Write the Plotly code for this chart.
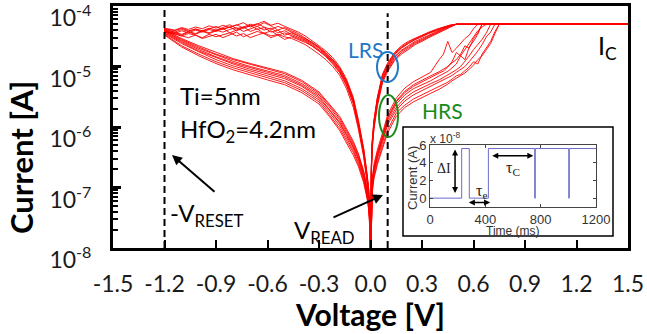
import plotly.graph_objects as go

# ---------------- data ----------------
# Positive sweep, HRS -> SET (current in A), voltage grid in V
V_SET = [0.0, 0.005, 0.01, 0.02, 0.04, 0.07, 0.1, 0.15, 0.2, 0.25, 0.3, 0.35, 0.4, 0.425,
         0.45, 0.475, 0.5, 0.525, 0.55, 0.575, 0.6, 0.625, 0.65, 0.675, 0.7, 0.725, 0.75, 1.5]
I_SET = [
    [4e-9, 7e-8, 1.2e-7, 2.0e-7, 3.5e-7, 6.5e-7, 1.3e-6, 2.4e-6, 3.4e-6, 4.3e-6, 5.0e-6, 5.8e-6, 7.0e-6, 7.6e-6,
     8.3e-6, 9.5e-6, 1.1e-5, 1.5e-5, 1.3e-5, 2.1e-5, 2.6e-5, 3.4e-5, 5e-5, 5e-5, 5e-5, 5e-5, 5e-5, 5e-5],
    [4e-9, 5e-8, 9e-8, 1.5e-7, 2.6e-7, 4.8e-7, 9e-7, 1.7e-6, 2.3e-6, 2.9e-6, 3.4e-6, 4.0e-6, 4.6e-6, 5.0e-6,
     5.5e-6, 6.2e-6, 7.0e-6, 7.4e-6, 8.5e-6, 9.8e-6, 1.2e-5, 1.1e-5, 1.6e-5, 2.0e-5, 2.6e-5, 3.8e-5, 5e-5, 5e-5],
    [4e-9, 8e-8, 1.4e-7, 2.4e-7, 4.2e-7, 8e-7, 1.6e-6, 3.0e-6, 4.4e-6, 5.6e-6, 6.6e-6, 8.0e-6, 1.3e-5, 1.6e-5,
     2.6e-5, 1.7e-5, 2.0e-5, 2.4e-5, 2.9e-5, 3.3e-5, 4.2e-5, 5e-5, 5e-5, 5e-5, 5e-5, 5e-5, 5e-5, 5e-5],
    [4e-9, 6e-8, 1.1e-7, 1.8e-7, 3.2e-7, 6e-7, 1.2e-6, 2.1e-6, 3.0e-6, 3.8e-6, 4.5e-6, 5.2e-6, 6.0e-6, 6.6e-6,
     7.2e-6, 8.0e-6, 8.8e-6, 1.0e-5, 1.2e-5, 1.5e-5, 1.9e-5, 2.3e-5, 2.8e-5, 3.6e-5, 5e-5, 5e-5, 5e-5, 5e-5],
    [4e-9, 6.5e-8, 1.15e-7, 1.9e-7, 3.4e-7, 6.8e-7, 1.4e-6, 2.6e-6, 3.7e-6, 4.7e-6, 5.6e-6, 6.5e-6, 7.8e-6, 8.4e-6,
     9.8e-6, 1.2e-5, 1.7e-5, 1.5e-5, 1.9e-5, 2.5e-5, 3.1e-5, 3.9e-5, 4.5e-5, 5e-5, 5e-5, 5e-5, 5e-5, 5e-5],
    [4e-9, 4.5e-8, 8e-8, 1.4e-7, 2.4e-7, 4.4e-7, 8e-7, 1.5e-6, 2.1e-6, 2.6e-6, 3.1e-6, 3.6e-6, 4.2e-6, 4.6e-6,
     5.1e-6, 5.8e-6, 6.4e-6, 7.2e-6, 7.8e-6, 9.0e-6, 1.05e-5, 1.3e-5, 1.5e-5, 1.9e-5, 2.4e-5, 3.5e-5, 5e-5, 5e-5],
    [4e-9, 7.5e-8, 1.3e-7, 2.2e-7, 3.8e-7, 7.2e-7, 1.45e-6, 2.7e-6, 3.9e-6, 5.0e-6, 6.0e-6, 7.0e-6, 8.2e-6, 9.0e-6,
     1.0e-5, 1.15e-5, 1.3e-5, 1.6e-5, 2.2e-5, 2.0e-5, 2.9e-5, 3.6e-5, 5e-5, 5e-5, 5e-5, 5e-5, 5e-5, 5e-5],
    [4e-9, 5.5e-8, 1.0e-7, 1.7e-7, 3.0e-7, 5.5e-7, 1.1e-6, 1.9e-6, 2.7e-6, 3.4e-6, 4.0e-6, 4.7e-6, 5.4e-6, 5.9e-6,
     6.5e-6, 7.1e-6, 8.0e-6, 8.8e-6, 1.0e-5, 1.2e-5, 1.45e-5, 1.8e-5, 2.3e-5, 3.1e-5, 3.7e-5, 5e-5, 5e-5, 5e-5],
]

# Positive sweep back, LRS
V_LRS_POS = [1.5, 0.5, 0.46, 0.42, 0.38, 0.34, 0.3, 0.26, 0.22, 0.18, 0.14, 0.1, 0.07, 0.04, 0.02, 0.01, 0.005, 0.0]
I_LRS_POS = [
    [5e-5, 5e-5, 4.7e-5, 4.3e-5, 3.9e-5, 3.5e-5, 3.1e-5, 2.8e-5, 2.4e-5, 2.0e-5, 1.6e-5, 1.05e-5, 7e-6, 2.9e-6, 1.2e-6, 5.5e-7, 2.2e-7, 4e-9],
    [5e-5, 5e-5, 4.5e-5, 4.0e-5, 3.5e-5, 3.1e-5, 2.7e-5, 2.4e-5, 2.0e-5, 1.7e-5, 1.3e-5, 8.8e-6, 5.8e-6, 2.4e-6, 1.0e-6, 4.6e-7, 1.8e-7, 4e-9],
    [5e-5, 5e-5, 4.8e-5, 4.5e-5, 4.1e-5, 3.7e-5, 3.3e-5, 3.0e-5, 2.6e-5, 2.2e-5, 1.7e-5, 1.15e-5, 7.5e-6, 3.1e-6, 1.3e-6, 6e-7, 2.4e-7, 4e-9],
    [5e-5, 5e-5, 4.6e-5, 4.2e-5, 3.7e-5, 3.3e-5, 2.9e-5, 2.6e-5, 2.2e-5, 1.85e-5, 1.45e-5, 9.5e-6, 6.2e-6, 2.6e-6, 1.1e-6, 5e-7, 2e-7, 4e-9],
    [5e-5, 5e-5, 4.4e-5, 3.9e-5, 3.4e-5, 3.0e-5, 2.6e-5, 2.3e-5, 1.9e-5, 1.6e-5, 1.25e-5, 8.2e-6, 5.4e-6, 2.2e-6, 9e-7, 4.2e-7, 1.7e-7, 4e-9],
    [5e-5, 5e-5, 4.7e-5, 4.4e-5, 4.0e-5, 3.6e-5, 3.2e-5, 2.9e-5, 2.5e-5, 2.1e-5, 1.65e-5, 1.1e-5, 7.2e-6, 3.0e-6, 1.25e-6, 5.7e-7, 2.3e-7, 4e-9],
    [5e-5, 5e-5, 4.6e-5, 4.1e-5, 3.6e-5, 3.2e-5, 2.8e-5, 2.5e-5, 2.1e-5, 1.8e-5, 1.4e-5, 9.2e-6, 6e-6, 2.5e-6, 1.05e-6, 4.8e-7, 1.9e-7, 4e-9],
    [5e-5, 5e-5, 4.8e-5, 4.4e-5, 4.0e-5, 3.6e-5, 3.2e-5, 2.8e-5, 2.4e-5, 2.05e-5, 1.55e-5, 1.0e-5, 6.6e-6, 2.8e-6, 1.15e-6, 5.2e-7, 2.1e-7, 4e-9],
]

# Negative sweep, LRS -> RESET (noisy near the top)
V_LRS_NEG = [0.0, -0.005, -0.01, -0.02, -0.04, -0.07, -0.1, -0.14, -0.18, -0.22, -0.26, -0.3, -0.34, -0.38,
             -0.42, -0.46, -0.5, -0.54, -0.58, -0.62, -0.66, -0.7, -0.74, -0.78, -0.82, -0.86, -0.9, -0.94,
             -0.98, -1.02, -1.06, -1.1, -1.14, -1.18, -1.2]
I_LRS_NEG = [
    [4e-9, 5e-8, 8e-8, 1.4e-7, 3.8e-7, 1.1e-6, 2.6e-6, 5.2e-6, 8.5e-6, 1.2e-5, 1.55e-5, 1.9e-5, 2.3e-5, 2.7e-5,
     3.0e-5, 3.4e-5, 3.9e-5, 3.6e-5, 4.3e-5, 4.0e-5, 4.6e-5, 4.2e-5, 3.8e-5, 4.4e-5, 4.1e-5, 3.7e-5, 4.0e-5, 3.6e-5,
     3.9e-5, 3.5e-5, 3.8e-5, 3.4e-5, 3.7e-5, 3.9e-5, 4.1e-5],
    [4e-9, 4e-8, 7e-8, 1.2e-7, 3.2e-7, 9e-7, 2.1e-6, 4.3e-6, 7.2e-6, 1.0e-5, 1.3e-5, 1.6e-5, 1.95e-5, 2.3e-5,
     2.6e-5, 2.9e-5, 3.1e-5, 3.4e-5, 3.2e-5, 3.6e-5, 3.3e-5, 3.0e-5, 3.5e-5, 3.2e-5, 3.6e-5, 3.3e-5, 3.1e-5, 3.4e-5,
     3.0e-5, 3.3e-5, 3.5e-5, 3.2e-5, 3.4e-5, 3.6e-5, 3.8e-5],
    [4e-9, 6e-8, 9.5e-8, 1.7e-7, 4.5e-7, 1.3e-6, 3.1e-6, 6.2e-6, 1.0e-5, 1.4e-5, 1.8e-5, 2.2e-5, 2.7e-5, 3.2e-5,
     3.7e-5, 4.1e-5, 4.6e-5, 5.2e-5, 4.8e-5, 5.6e-5, 5.0e-5, 4.5e-5, 5.3e-5, 4.9e-5, 4.4e-5, 4.8e-5, 4.3e-5, 4.7e-5,
     4.2e-5, 4.5e-5, 4.1e-5, 4.4e-5, 4.0e-5, 4.2e-5, 4.3e-5],
    [4e-9, 5e-8, 8.5e-8, 1.5e-7, 4e-7, 1.15e-6, 2.8e-6, 5.5e-6, 9e-6, 1.25e-5, 1.6e-5, 2.0e-5, 2.4e-5, 2.8e-5,
     3.2e-5, 3.6e-5, 3.3e-5, 4.0e-5, 3.7e-5, 4.4e-5, 4.1e-5, 4.8e-5, 4.3e-5, 3.9e-5, 4.5e-5, 4.2e-5, 3.8e-5, 4.1e-5,
     3.7e-5, 4.0e-5, 3.6e-5, 3.9e-5, 3.5e-5, 3.8e-5, 4.0e-5],
    [4e-9, 4.5e-8, 7.5e-8, 1.3e-7, 3.5e-7, 1.0e-6, 2.4e-6, 4.8e-6, 7.9e-6, 1.1e-5, 1.45e-5, 1.8e-5, 2.2e-5, 2.6e-5,
     2.9e-5, 3.2e-5, 3.6e-5, 3.3e-5, 3.9e-5, 3.5e-5, 4.2e-5, 3.8e-5, 4.5e-5, 4.0e-5, 3.6e-5, 4.3e-5, 3.9e-5, 3.5e-5,
     3.8e-5, 3.4e-5, 3.7e-5, 3.3e-5, 3.6e-5, 3.7e-5, 3.9e-5],
    [4e-9, 5.5e-8, 9e-8, 1.6e-7, 4.3e-7, 1.2e-6, 2.9e-6, 5.8e-6, 9.5e-6, 1.3e-5, 1.7e-5, 2.1e-5, 2.5e-5, 3.0e-5,
     3.5e-5, 3.9e-5, 4.4e-5, 4.0e-5, 4.7e-5, 5.3e-5, 4.6e-5, 5.0e-5, 4.5e-5, 4.2e-5, 4.9e-5, 4.4e-5, 4.0e-5, 4.3e-5,
     3.9e-5, 4.2e-5, 3.8e-5, 4.1e-5, 3.7e-5, 4.0e-5, 4.2e-5],
    [4e-9, 4.5e-8, 7.5e-8, 1.35e-7, 3.6e-7, 1.05e-6, 2.5e-6, 5.0e-6, 8.2e-6, 1.15e-5, 1.5e-5, 1.85e-5, 2.2e-5, 2.5e-5,
     2.8e-5, 3.1e-5, 2.8e-5, 3.3e-5, 3.0e-5, 3.5e-5, 3.8e-5, 3.4e-5, 3.1e-5, 3.7e-5, 3.3e-5, 3.0e-5, 3.4e-5, 3.1e-5,
     2.9e-5, 3.3e-5, 3.0e-5, 3.2e-5, 3.5e-5, 3.6e-5, 3.7e-5],
    [4e-9, 6e-8, 9e-8, 1.55e-7, 4.1e-7, 1.2e-6, 2.8e-6, 5.6e-6, 9.2e-6, 1.3e-5, 1.65e-5, 2.05e-5, 2.5e-5, 2.9e-5,
     3.3e-5, 3.7e-5, 4.2e-5, 4.6e-5, 4.1e-5, 4.5e-5, 5.1e-5, 4.7e-5, 4.3e-5, 4.9e-5, 4.5e-5, 4.1e-5, 4.6e-5, 4.2e-5,
     3.8e-5, 4.1e-5, 3.9e-5, 4.3e-5, 3.9e-5, 4.1e-5, 4.2e-5],
]

# Negative sweep back, HRS
V_HRS_NEG = [-1.2, -1.15, -1.1, -1.0, -0.9, -0.8, -0.7, -0.6, -0.5, -0.4, -0.3, -0.24, -0.18, -0.14,
             -0.1, -0.07, -0.04, -0.02, -0.01, -0.005, 0.0]
I_HRS_NEG = [
    [3.6e-5, 3.0e-5, 2.5e-5, 1.8e-5, 1.4e-5, 1.1e-5, 9.0e-6, 7.6e-6, 6.3e-6, 4.7e-6, 3.0e-6, 1.9e-6, 1.15e-6, 7.2e-7, 4.5e-7, 2.9e-7, 1.5e-7, 8e-8, 5e-8, 3e-8, 4e-9],
    [3.4e-5, 2.7e-5, 2.2e-5, 1.6e-5, 1.2e-5, 9.5e-6, 7.8e-6, 6.5e-6, 5.4e-6, 4.0e-6, 2.6e-6, 1.6e-6, 9.5e-7, 6.0e-7, 3.8e-7, 2.4e-7, 1.3e-7, 7e-8, 4.5e-8, 2.7e-8, 4e-9],
    [3.9e-5, 3.3e-5, 2.8e-5, 2.1e-5, 1.6e-5, 1.3e-5, 1.08e-5, 9.2e-6, 7.6e-6, 5.6e-6, 3.6e-6, 2.3e-6, 1.4e-6, 8.8e-7, 5.4e-7, 3.4e-7, 1.8e-7, 9.5e-8, 6e-8, 3.5e-8, 4e-9],
    [3.7e-5, 3.1e-5, 2.6e-5, 1.9e-5, 1.45e-5, 1.15e-5, 9.5e-6, 8.0e-6, 6.7e-6, 4.9e-6, 3.2e-6, 2.0e-6, 1.2e-6, 7.6e-7, 4.7e-7, 3.0e-7, 1.6e-7, 8.5e-8, 5.2e-8, 3.1e-8, 4e-9],
    [3.5e-5, 2.9e-5, 2.4e-5, 1.75e-5, 1.3e-5, 1.02e-5, 8.4e-6, 7.0e-6, 5.8e-6, 4.3e-6, 2.8e-6, 1.75e-6, 1.05e-6, 6.6e-7, 4.1e-7, 2.6e-7, 1.4e-7, 7.5e-8, 4.8e-8, 2.9e-8, 4e-9],
    [3.8e-5, 3.2e-5, 2.7e-5, 2.0e-5, 1.55e-5, 1.22e-5, 1.0e-5, 8.5e-6, 7.1e-6, 5.2e-6, 3.4e-6, 2.15e-6, 1.3e-6, 8.2e-7, 5e-7, 3.2e-7, 1.7e-7, 9e-8, 5.6e-8, 3.3e-8, 4e-9],
    [3.3e-5, 2.6e-5, 2.1e-5, 1.5e-5, 1.12e-5, 8.8e-6, 7.2e-6, 6.0e-6, 5.0e-6, 3.7e-6, 2.4e-6, 1.5e-6, 8.8e-7, 5.5e-7, 3.4e-7, 2.2e-7, 1.2e-7, 6.5e-8, 4.2e-8, 2.5e-8, 4e-9],
    [4.0e-5, 3.4e-5, 2.9e-5, 2.2e-5, 1.7e-5, 1.35e-5, 1.12e-5, 9.6e-6, 8.0e-6, 5.9e-6, 3.8e-6, 2.4e-6, 1.5e-6, 9.4e-7, 5.8e-7, 3.6e-7, 1.9e-7, 1.0e-7, 6.3e-8, 3.7e-8, 4e-9],
]

X_TICKS = [-1.5, -1.2, -0.9, -0.6, -0.3, 0.0, 0.3, 0.6, 0.9, 1.2, 1.5]
X_TICK_TEXT = ["-1.5", "-1.2", "-0.9", "-0.6", "-0.3", "0.0", "0.3", "0.6", "0.9", "1.2", "1.5"]
Y_TICKS = [1e-8, 1e-7, 1e-6, 1e-5, 1e-4]
Y_TICK_TEXT = ["10<sup>-8</sup>", "10<sup>-7</sup>", "10<sup>-6</sup>", "10<sup>-5</sup>", "10<sup>-4</sup>"]
V_RESET_MARK = -1.2
V_READ_MARK = 0.1

# Inset: random telegraph noise (current in units of 1e-8 A vs time in ms)
T_RTN = [0, 229, 284, 422, 757, 761, 1003, 1007, 1200]
I_RTN = [0, 5.6, 0, 5.6, 0, 5.6, 0, 5.6, 5.6]
INSET_X_TICKS = [0, 400, 800, 1200]
INSET_Y_TICKS = [0, 2, 4, 6]

# ---------------- layout helpers (pixel -> paper) ----------------
W, H = 647, 334
PL, PR, PT, PB = 113, 628, 6, 248


def fx(px):
    return (px - PL) / (PR - PL)


def fy(py):
    return (PB - py) / (PB - PT)


MAIN_FONT = "Lato"
RED = "#ff0000"

fig = go.Figure()

for k in range(len(I_SET)):
    xs = V_SET + V_LRS_POS + V_LRS_NEG + V_HRS_NEG
    ys = I_SET[k] + I_LRS_POS[k] + I_LRS_NEG[k] + I_HRS_NEG[k]
    fig.add_trace(go.Scatter(x=xs, y=ys, mode="lines",
                             line=dict(color=RED, width=0.9),
                             showlegend=False, hoverinfo="skip",
                             xaxis="x", yaxis="y"))

fig.add_trace(go.Scatter(x=T_RTN, y=I_RTN, mode="lines", line_shape="hv",
                         line=dict(color="#6b6bcf", width=1),
                         showlegend=False, hoverinfo="skip",
                         xaxis="x2", yaxis="y2"))

minor_vals = [m * 10.0 ** e for e in range(-8, -4) for m in range(2, 10)]

fig.update_layout(
    width=W, height=H,
    margin=dict(l=PL, r=W - PR, t=PT, b=H - PB, autoexpand=False),
    paper_bgcolor="white", plot_bgcolor="white",
    font=dict(family=MAIN_FONT, color="#1a1a1a"),
    xaxis=dict(range=[-1.5, 1.5], tickvals=X_TICKS, ticktext=X_TICK_TEXT,
               ticks="inside", ticklen=8, tickwidth=2, tickcolor="black",
               showline=True, linewidth=3, linecolor="black", mirror=True,
               showgrid=False, zeroline=False, automargin=False,
               tickfont=dict(family=MAIN_FONT, size=23, color="#1a1a1a"),
               ticklabelstandoff=13, ticklabeloverflow="allow", domain=[0, 1]),
    yaxis=dict(type="log", range=[-8, -4], tickvals=Y_TICKS, ticktext=Y_TICK_TEXT,
               ticks="inside", ticklen=8, tickwidth=3, tickcolor="black",
               minor=dict(tickvals=minor_vals, ticks="inside", ticklen=5, tickwidth=2, tickcolor="black"),
               showline=True, linewidth=3, linecolor="black", mirror=True,
               showgrid=False, zeroline=False, automargin=False,
               tickfont=dict(family=MAIN_FONT, size=23, color="#1a1a1a"),
               ticklabelstandoff=14, ticklabelshift=12, ticklabeloverflow="allow", domain=[0, 1]),
    xaxis2=dict(domain=[fx(430), fx(596)], anchor="y2", range=[0, 1200],
                tickvals=INSET_X_TICKS, ticks="inside", ticklen=3, tickwidth=1, tickcolor="#444",
                showline=True, linewidth=1, linecolor="#444", mirror="ticks",
                showgrid=False, zeroline=False, automargin=False,
                tickfont=dict(family="Liberation Sans", size=13, color="#333")),
    yaxis2=dict(domain=[fy(207), fy(145)], anchor="x2", range=[-1, 6],
                tickvals=INSET_Y_TICKS, ticks="inside", ticklen=3, tickwidth=1, tickcolor="#444",
                showline=True, linewidth=1, linecolor="#444", mirror="ticks",
                showgrid=False, zeroline=False, automargin=False,
                tickfont=dict(family="Liberation Sans", size=13, color="#333")),
)

shapes = [
    # inset frame
    dict(type="rect", xref="paper", yref="paper", x0=fx(403), x1=fx(613), y0=fy(236), y1=fy(127),
         line=dict(color="black", width=1.5), fillcolor="white", layer="below"),
    # dashed markers
    dict(type="line", xref="x", yref="paper", x0=V_RESET_MARK, x1=V_RESET_MARK, y0=0, y1=1,
         line=dict(color="black", width=2, dash="7px,4px"), layer="above"),
    dict(type="line", xref="x", yref="paper", x0=V_READ_MARK, x1=V_READ_MARK, y0=0, y1=0.97,
         line=dict(color="black", width=2, dash="7px,4px"), layer="above"),
    # LRS / HRS ellipses
    dict(type="circle", xref="paper", yref="paper", x0=fx(377), x1=fx(398), y0=fy(82), y1=fy(52),
         line=dict(color="#1f78c8", width=2), layer="above"),
    dict(type="circle", xref="paper", yref="paper", x0=fx(379), x1=fx(398), y0=fy(137), y1=fy(95),
         line=dict(color="#1a8a1a", width=2), layer="above"),
]
fig.update_layout(shapes=shapes)

ann = []


def text(px, py, s, size, color="black", bold=False, family=MAIN_FONT, xanchor="left", angle=0):
    t = "<b>" + s + "</b>" if bold else s
    ann.append(dict(x=fx(px), y=fy(py), xref="paper", yref="paper", text=t, showarrow=False,
                    xanchor=xanchor, yanchor="middle", textangle=angle,
                    font=dict(family=family, size=size, color=color)))


text(178, 95, "Ti=5nm", 24)
text(178, 130, "HfO<sub>2</sub>=4.2nm", 24)
text(168, 214, "-V<sub>RESET</sub>", 24)
text(292, 231, "V<sub>READ</sub>", 24)
text(365, 50, "LRS", 21, color="#1f78c8", xanchor="center")
text(442, 110, "HRS", 21, color="#1a8a1a", xanchor="center")
text(596, 47, "I<sub>C</sub>", 25)
# axis titles
text(370, 314, "Voltage [V]", 30, bold=True, xanchor="center")
text(21, 158, "Current [A]", 31, bold=True, xanchor="center", angle=-90)
# inset texts
text(428, 138, "x 10<sup>-8</sup>", 12, color="#333", family="Liberation Sans")
text(513, 231, "Time (ms)", 12, color="#333", family="Liberation Sans", xanchor="center")
text(412, 178, "Current (A)", 13, color="#333", family="Liberation Sans", xanchor="center", angle=-90)
ann.append(dict(x=100, y=3.4, xref="x2", yref="y2", text="ΔI", showarrow=False,
                font=dict(family="Liberation Serif", size=14, color="#222")))
ann.append(dict(x=370, y=0.8, xref="x2", yref="y2", text="τ<sub>e</sub>", showarrow=False,
                font=dict(family="Liberation Serif", size=16, color="#222")))
ann.append(dict(x=600, y=3.3, xref="x2", yref="y2", text="τ<sub>C</sub>", showarrow=False,
                font=dict(family="Liberation Serif", size=16, color="#222")))

# arrows (inset, double-headed)
for (x0, y0, x1, y1) in [(181, 0.4, 181, 5.5), (270, -0.5, 434, -0.5), (439, 4.8, 747, 4.8)]:
    ann.append(dict(x=x1, y=y1, ax=x0, ay=y0, xref="x2", yref="y2", axref="x2", ayref="y2",
                    text="", showarrow=True, arrowhead=2, startarrowhead=2, arrowside="end+start",
                    arrowwidth=1.5, arrowsize=0.8, arrowcolor="black"))

# pointing arrows in main plot
ann.append(dict(x=fx(172), y=fy(155), xref="paper", yref="paper", ax=44, ay=38, text="",
                showarrow=True, arrowhead=2, arrowwidth=2, arrowsize=1, arrowcolor="black"))
ann.append(dict(x=fx(383), y=fy(195), xref="paper", yref="paper", ax=-51, ay=23, text="",
                showarrow=True, arrowhead=2, arrowwidth=2, arrowsize=1, arrowcolor="black"))

fig.update_layout(annotations=ann)

fig.write_html("out.html")
